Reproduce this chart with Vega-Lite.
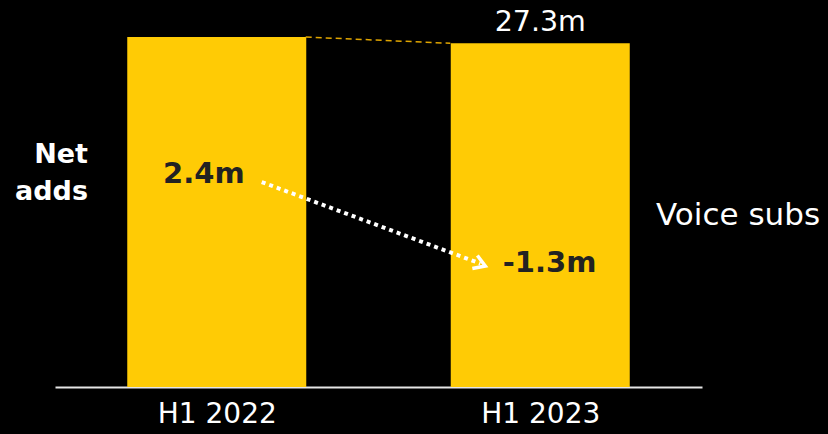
{
  "$schema": "https://vega.github.io/schema/vega-lite/v6.json",
  "width": 647,
  "height": 387,
  "autosize": {"type": "none"},
  "padding": {"left": 55, "top": 0, "right": 126, "bottom": 47},
  "background": "#000000",
  "config": {"view": {"stroke": null}},
  "datasets": {
    "bars": [
      {"period": "H1 2022", "x": 1, "y": 27.8},
      {"period": "H1 2023", "x": 2, "y": 27.3}
    ],
    "connector": [
      {"x": 1.275, "y": 27.8},
      {"x": 1.722, "y": 27.3}
    ],
    "arrow": [
      {"x": 1.139, "y": 16.28},
      {"x": 1.815, "y": 9.8}
    ],
    "head": [
      {"x": 1.814, "y": 9.77}
    ],
    "labels": [
      {"label": "27.3m", "group": "value", "x": 2.0, "y": 28.28},
      {"label": "2.4m", "group": "net", "x": 0.96, "y": 16.2},
      {"label": "-1.3m", "group": "net", "x": 2.029, "y": 9.16},
      {"label": "Net", "group": "left", "x": 0.602, "y": 17.79},
      {"label": "adds", "group": "left", "x": 0.602, "y": 14.85},
      {"label": "Voice subs", "group": "right", "x": 2.358, "y": 12.87}
    ]
  },
  "encoding": {
    "x": {
      "field": "x",
      "type": "quantitative",
      "scale": {"domain": [0.5, 2.5], "nice": false, "zero": false, "padding": 0},
      "axis": {
        "values": [1, 2],
        "labelExpr": "datum.value == 1 ? 'H1 2022' : 'H1 2023'",
        "grid": false,
        "ticks": false,
        "domainColor": "#e6e6e6",
        "domainWidth": 2,
        "labelColor": "#ffffff",
        "labelFont": "DejaVu Sans",
        "labelFontSize": 28,
        "labelPadding": 13,
        "labelFlush": false,
        "title": null
      }
    },
    "y": {
      "field": "y",
      "type": "quantitative",
      "scale": {"domain": [0, 30.74], "nice": false},
      "axis": null
    }
  },
  "layer": [
    {
      "data": {"name": "bars"},
      "mark": {"type": "bar", "width": 179, "color": "#FFCB05"}
    },
    {
      "data": {"name": "connector"},
      "mark": {"type": "line", "color": "#E0A500", "strokeWidth": 1.5, "strokeDash": [6, 4]}
    },
    {
      "data": {"name": "arrow"},
      "mark": {"type": "line", "color": "#ffffff", "strokeWidth": 4, "strokeDash": [4, 4], "strokeCap": "butt"}
    },
    {
      "data": {"name": "head"},
      "mark": {"type": "point", "shape": "M-0.8,-1L0.8,0L-0.8,1", "size": 196, "filled": false, "stroke": "#ffffff", "strokeWidth": 3.5, "angle": 21, "opacity": 1}
    },
    {
      "data": {"name": "labels"},
      "transform": [{"filter": "datum.group == 'value'"}],
      "mark": {"type": "text", "font": "DejaVu Sans", "fontSize": 28.5, "color": "#ffffff", "align": "center", "baseline": "alphabetic"},
      "encoding": {"text": {"field": "label"}}
    },
    {
      "data": {"name": "labels"},
      "transform": [{"filter": "datum.group == 'net'"}],
      "mark": {"type": "text", "font": "DejaVu Sans", "fontWeight": "bold", "fontSize": 29, "color": "#222222", "align": "center", "baseline": "alphabetic"},
      "encoding": {"text": {"field": "label"}}
    },
    {
      "data": {"name": "labels"},
      "transform": [{"filter": "datum.group == 'left'"}],
      "mark": {"type": "text", "font": "DejaVu Sans", "fontWeight": "bold", "fontSize": 27, "color": "#ffffff", "align": "right", "baseline": "alphabetic"},
      "encoding": {"text": {"field": "label"}}
    },
    {
      "data": {"name": "labels"},
      "transform": [{"filter": "datum.group == 'right'"}],
      "mark": {"type": "text", "font": "DejaVu Sans", "fontSize": 31, "color": "#ffffff", "align": "left", "baseline": "alphabetic"},
      "encoding": {"text": {"field": "label"}}
    }
  ]
}
